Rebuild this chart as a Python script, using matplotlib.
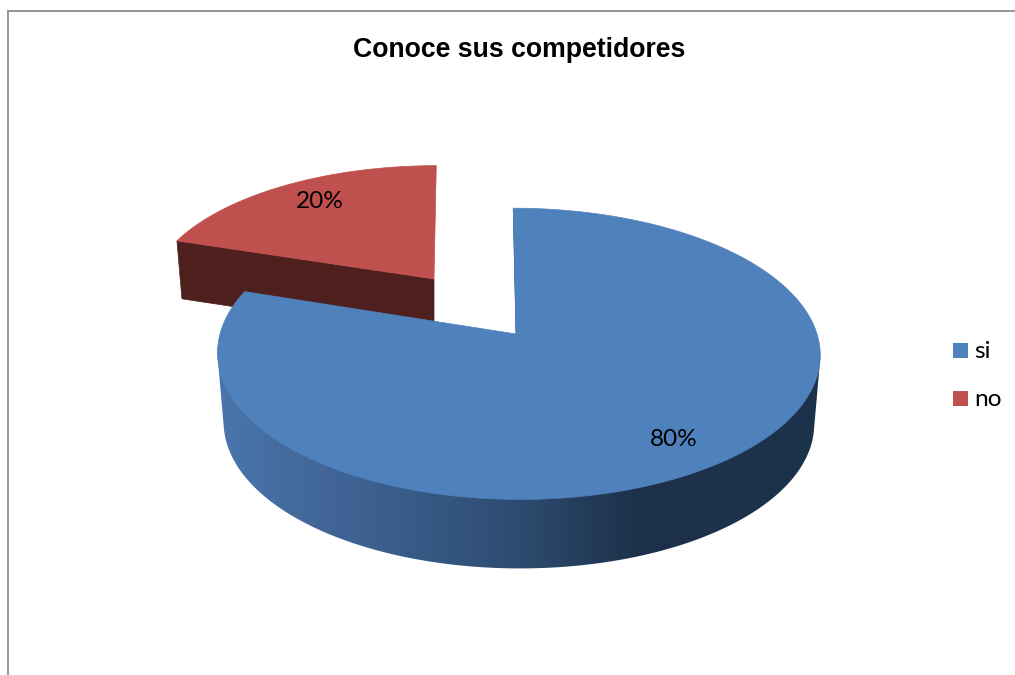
import numpy as np
import matplotlib
matplotlib.use("Agg")
import matplotlib.pyplot as plt
from matplotlib.patches import Polygon, Rectangle
from matplotlib.colors import LinearSegmentedColormap

title = "Conoce sus competidores"
categories = ["si", "no"]
values = [80, 20]
labels = ["80%", "20%"]
colors = ["#4F81BD", "#C0504D"]

W, H = 1015, 675
fig = plt.figure(figsize=(W / 100, H / 100), dpi=100, facecolor="white")
ax = fig.add_axes([0, 0, 1, 1])
ax.set_xlim(0, W)
ax.set_ylim(H, 0)
ax.axis("off")

# chart frame
ax.plot([8.5, 8.5, W], [H, 11, 11], color="#8c8c8c", lw=1.3, solid_joinstyle="miter", zorder=1)

C = 0.136
BLUE = dict(x0=516.0, y0=334.0, R=298.0, e=67.0, a=-97.5, right=3.0, left=2.0)
RED = dict(x0=434.0, y0=279.0, R=282.5, e=61.6, a=-90.8, right=0.0, left=0.0)
frac = np.cumsum([0] + values) / sum(values)
th = 2 * np.pi * frac  # clockwise from 12 o'clock


def disc(g, t):
    u, v = np.sin(t), np.cos(t)
    w = 1 + C * v
    x = (g["x0"] + g["R"] * u + g["e"] * v) / w
    x = x + np.where(u > 0, g["right"] * u, g["left"] * np.abs(u) ** 4)
    return x, (g["y0"] + g["a"] * v) / w


def extrude(x, y, depth, shrink, cx):
    return cx + (np.asarray(x) - cx) * shrink, np.asarray(y) + depth


def wedge(g, t0, t1):
    t = np.linspace(t0, t1, 300)
    x, y = disc(g, t)
    return np.column_stack([np.r_[g["x0"], x], np.r_[g["y0"], y]])


def hull(pts):
    pts = sorted(set(map(tuple, pts)))

    def half(seq):
        out = []
        for p in seq:
            while len(out) > 1 and ((out[-1][0] - out[-2][0]) * (p[1] - out[-2][1])
                                    - (out[-1][1] - out[-2][1]) * (p[0] - out[-2][0])) <= 0:
                out.pop()
            out.append(p)
        return out[:-1]

    return np.array(half(pts) + half(pts[::-1]))


# --- exploded slice ("no") ---
xr, yr = disc(RED, th[1])
ax.add_patch(Polygon([(RED["x0"], RED["y0"]), (xr, yr),
                      (xr + 5, yr + 58), (RED["x0"], RED["y0"] + 58)],
                     fc="#4D1F1D", ec="#4D1F1D", lw=0.5, zorder=2))
ax.add_patch(Polygon(wedge(RED, th[1], th[2]), fc=colors[1], ec=colors[1], lw=0.5, zorder=3))

# --- main slice ("si") side wall with a horizontal gradient ---
DEPTH, SHR, CX = 69.0, 0.98, 519.0
ts = np.linspace(np.radians(95), np.radians(265), 500)
xt, yt = disc(BLUE, ts)
xb, yb = extrude(xt, yt, DEPTH, SHR, CX)
side = Polygon(hull(np.column_stack([np.r_[xt, xb], np.r_[yt, yb]])),
               fc="none", ec="none", transform=ax.transData)
ax.add_patch(side)
pos = [(205, "#4A78AF"), (300, "#44699B"), (400, "#395C8A"), (520, "#2D4B70"),
       (640, "#1C3149"), (830, "#1D334C")]
cmap = LinearSegmentedColormap.from_list(
    "wall", [((p - 205) / (830 - 205), c) for p, c in pos])
im = ax.imshow(np.linspace(0, 1, 600)[None, :], extent=[205, 830, 600, 250],
               cmap=cmap, aspect="auto", zorder=4, interpolation="bilinear")
im.set_clip_path(side)
ax.set_xlim(0, W)
ax.set_ylim(H, 0)

# thin inner face at the cut
xa, ya = disc(BLUE, th[0])
ax.add_patch(Polygon([(xa, ya), (BLUE["x0"], BLUE["y0"]), (BLUE["x0"] + 1.8, BLUE["y0"])],
                     fc="#1C3149", ec="#1C3149", lw=0.4, zorder=4))

# top face
ax.add_patch(Polygon(wedge(BLUE, th[0], th[1]), fc=colors[0], ec=colors[0], lw=0.5, zorder=5))

# data labels
lab_font = ["Lato", "DejaVu Sans"]
ax.text(674, 440, labels[0], fontsize=17.6, family=lab_font, color="black",
        ha="center", va="center", zorder=6)
ax.text(320, 201, labels[1], fontsize=17.6, family=lab_font, color="black",
        ha="center", va="center", zorder=6)

# title
ax.text(519, 50, title, fontsize=19.2, fontweight="bold", family=["Liberation Sans"],
        color="black", ha="center", va="center", zorder=6)

# legend
for cat, col, yc in zip(categories, colors, [350.5, 398.5]):
    ax.add_patch(Rectangle((953, yc - 7.5), 15, 15, fc=col, ec="none", zorder=6))
    ax.text(974, yc + 0.5, cat, fontsize=17.6, family=lab_font, color="black",
            ha="left", va="center", zorder=6)

fig.savefig("out.png", dpi=100, facecolor="white")
